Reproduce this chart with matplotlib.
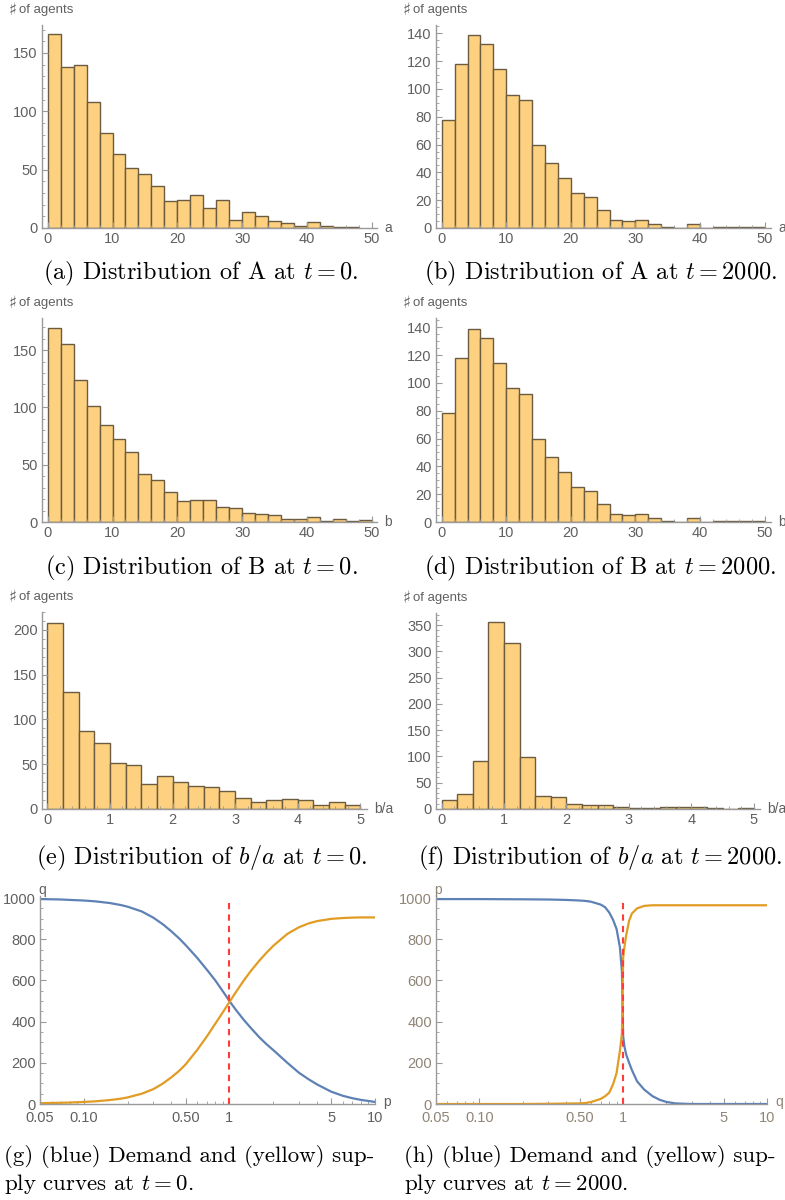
import numpy as np
import matplotlib
matplotlib.use("Agg")
import matplotlib.pyplot as plt
from matplotlib.ticker import MultipleLocator, FixedLocator, FixedFormatter, NullFormatter

plt.rcParams['mathtext.fontset'] = 'cm'
plt.rcParams['font.family'] = ['Liberation Sans', 'DejaVu Sans']

# histogram counts (bin width 2 for a and b, 0.25 for b/a)
a_t0 = [166, 138, 140, 108, 81, 63, 51, 46, 36, 23, 24, 28, 17, 24, 7, 14,
        10, 6, 4, 2, 5, 2, 1, 1]
a_t2000 = [78, 118, 139, 132, 114, 96, 92, 60, 47, 36, 25, 22, 13, 6, 5, 6,
           3, 1, 0, 3, 0, 1, 1, 1, 1]
b_t0 = [169, 155, 124, 101, 85, 72, 61, 42, 37, 26, 18, 19, 19, 13, 12, 8,
        7, 6, 3, 3, 4, 1, 3, 1, 2]
b_t2000 = [78, 118, 139, 132, 114, 96, 92, 60, 47, 36, 25, 22, 13, 6, 5, 6,
           3, 1, 0, 3, 0, 1, 1, 1, 1]
ratio_t0 = [208, 131, 87, 74, 51, 49, 28, 37, 30, 26, 25, 20, 12, 8, 10, 11,
            10, 5, 8, 5]
ratio_t2000 = [17, 29, 92, 355, 316, 99, 25, 22, 9, 7, 7, 3, 2, 2, 3, 3,
               3, 2, 0, 2]

# demand / supply curves at t = 0
p_t0 = [0.05, 0.06, 0.07, 0.08, 0.1, 0.12, 0.15, 0.18, 0.2, 0.25, 0.3, 0.35,
        0.4, 0.45, 0.5, 0.6, 0.7, 0.8, 0.9, 1.0, 1.1, 1.25, 1.4, 1.6, 1.8,
        2.0, 2.5, 3.0, 3.5, 4.0, 5.0, 6.0, 7.0, 8.0, 10.0]
demand_t0 = [995, 994, 993, 991, 988, 984, 976, 966, 958, 935, 905, 872,
             838, 805, 772, 710, 652, 600, 548, 500, 460, 410, 370, 325, 290,
             262, 200, 152, 120, 95, 60, 40, 28, 20, 10]
supply_t0 = [4, 5, 6, 7, 10, 13, 19, 26, 32, 50, 72, 100,
             130, 160, 192, 262, 328, 390, 445, 495, 540, 598, 645, 695, 735,
             768, 826, 858, 877, 888, 899, 903, 905, 906, 906]

# demand / supply curves at t = 2000
p_t2000 = [0.05, 0.1, 0.2, 0.3, 0.4, 0.5, 0.55, 0.6, 0.7, 0.75, 0.8, 0.85,
           0.9, 0.95, 0.98, 1.0, 1.02, 1.05, 1.1, 1.15, 1.25, 1.4, 1.6, 1.8,
           2.0, 2.3, 3.0, 5.0, 10.0]
demand_t2000 = [995, 995, 994, 993, 991, 988, 986, 982, 968, 955, 930, 895,
                850, 760, 645, 330, 280, 240, 200, 165, 110, 70, 38, 20,
                10, 3, 0, 0, 0]
supply_t2000 = [0, 0, 0, 1, 2, 3, 5, 10, 25, 38, 55, 95,
                150, 260, 340, 710, 760, 820, 890, 925, 950, 962, 965, 965,
                965, 965, 965, 965, 965]

W, H = 785, 1200
FACE = '#FDD17F'
EDGE = '#6b5b40'
AXIS = '#9a9a9a'
TICKTXT = '#606060'
BLUE = '#5E81B5'
ORANGE = '#E19C24'

fig = plt.figure(figsize=(W / 100, H / 100), dpi=100)


def add_axes(l, r, t, b):
    return fig.add_axes([l / W, 1 - b / H, (r - l) / W, (b - t) / H])


def style(ax, label_col=TICKTXT):
    for s in ['top', 'right']:
        ax.spines[s].set_visible(False)
    for s in ['left', 'bottom']:
        ax.spines[s].set_color(AXIS)
        ax.spines[s].set_linewidth(1.0)
    ax.tick_params(which='major', direction='in', length=4, width=0.8,
                   color=AXIS, labelcolor=label_col, labelsize=10.5, pad=3)
    ax.tick_params(which='minor', direction='in', length=2, width=0.6,
                   color=AXIS)
    ax.patch.set_alpha(0)


def histogram(rect, counts, width, xlim, ylim, xmaj, xmin, ymaj, ymin,
              xlabel):
    ax = add_axes(*rect)
    edges = np.arange(len(counts)) * width
    ax.bar(edges, counts, width=width, align='edge', facecolor=FACE,
           edgecolor=EDGE, linewidth=1.0)
    ax.set_xlim(*xlim)
    ax.set_ylim(*ylim)
    ax.xaxis.set_major_locator(MultipleLocator(xmaj))
    ax.xaxis.set_minor_locator(MultipleLocator(xmin))
    ax.yaxis.set_major_locator(MultipleLocator(ymaj))
    ax.yaxis.set_minor_locator(MultipleLocator(ymin))
    style(ax)
    # sharp sign drawn a bit larger than the rest of the label
    ax.annotate('\u266f', xy=(0, 1), xycoords='axes fraction',
                xytext=(-33, 15), textcoords='offset pixels', fontsize=12,
                color=TICKTXT, ha='left', va='center',
                family=['DejaVu Sans'])
    ax.annotate('of agents', xy=(0, 1), xycoords='axes fraction',
                xytext=(-23, 15), textcoords='offset pixels', fontsize=9.5,
                color=TICKTXT, ha='left', va='center')
    ax.annotate(xlabel, xy=(1, 0), xycoords='axes fraction',
                xytext=(7, 0), textcoords='offset pixels', fontsize=10,
                color=TICKTXT, ha='left', va='center')
    return ax


def curves(rect, p, demand, supply, ylabel, xlabel, label_col):
    ax = add_axes(*rect)
    ax.set_xscale('log')
    ax.plot(p, demand, color=BLUE, lw=1.6)
    ax.plot(p, supply, color=ORANGE, lw=1.6)
    ax.plot([1, 1], [0, 1000], color='#ff3b3b', lw=1.5, ls=(0, (3, 2.5)))
    ax.set_xlim(0.05, 10)
    ax.set_ylim(0, 1010)
    ax.xaxis.set_major_locator(FixedLocator([0.05, 0.1, 0.5, 1, 5, 10]))
    ax.xaxis.set_major_formatter(
        FixedFormatter(['0.05', '0.10', '0.50', '1', '5', '10']))
    ax.xaxis.set_minor_locator(FixedLocator(
        [0.06, 0.07, 0.08, 0.09, 0.2, 0.3, 0.4, 0.6, 0.7, 0.8, 0.9,
         2, 3, 4, 6, 7, 8, 9]))
    ax.xaxis.set_minor_formatter(NullFormatter())
    ax.yaxis.set_major_locator(MultipleLocator(200))
    ax.yaxis.set_minor_locator(MultipleLocator(50))
    style(ax, label_col)
    ax.tick_params(axis='x', which='major', pad=5)
    ax.annotate(ylabel, xy=(0, 1), xycoords='axes fraction',
                xytext=(2, 6), textcoords='offset pixels', fontsize=10,
                color=label_col, ha='center', va='center')
    ax.annotate(xlabel, xy=(1, 0), xycoords='axes fraction',
                xytext=(8, 2), textcoords='offset pixels', fontsize=10,
                color=label_col, ha='left', va='center')
    return ax


# row 1: a
histogram((42, 377, 25, 228), a_t0, 2, (-0.88, 50.8), (0, 174),
          10, 2, 50, 10, 'a')
histogram((436, 771, 25, 228), a_t2000, 2, (-0.88, 51.0), (0, 146),
          10, 2, 20, 5, 'a')
# row 2: b
histogram((42, 377, 318, 522), b_t0, 2, (-0.88, 50.8), (0, 178),
          10, 2, 50, 10, 'b')
histogram((436, 771, 318, 522), b_t2000, 2, (-0.88, 51.0), (0, 146.6),
          10, 2, 20, 5, 'b')
# row 3: b/a
histogram((42, 367, 612, 809), ratio_t0, 0.25, (-0.086, 5.107), (0, 220),
          1, 0.2, 50, 10, 'b/a')
histogram((436, 760, 613, 809), ratio_t2000, 0.25, (-0.09, 5.10), (0, 373),
          1, 0.2, 50, 10, 'b/a')
# row 4: demand and supply
curves((40, 375, 896, 1104), p_t0, demand_t0, supply_t0, 'q', 'p', TICKTXT)
curves((436, 767, 896, 1104), p_t2000, demand_t2000, supply_t2000, 'p', 'q',
       '#8f8577')

# captions
cap = dict(family='cmr10', fontsize=17.5, va='center')
fig.text(201 / W, 1 - 273 / H, r'(a) Distribution of A at $t = 0$.',
         ha='center', **cap)
fig.text(600 / W, 1 - 273 / H, r'(b) Distribution of A at $t = 2000$.',
         ha='center', **cap)
fig.text(201 / W, 1 - 568 / H, r'(c) Distribution of B at $t = 0$.',
         ha='center', **cap)
fig.text(600 / W, 1 - 568 / H, r'(d) Distribution of B at $t = 2000$.',
         ha='center', **cap)
fig.text(201 / W, 1 - 858 / H, r'(e) Distribution of $b/a$ at $t = 0$.',
         ha='center', **cap)
fig.text(600 / W, 1 - 858 / H, r'(f) Distribution of $b/a$ at $t = 2000$.',
         ha='center', **cap)
cap2 = dict(family='cmr10', fontsize=16.5, va='center', ha='left')
fig.text(4 / W, 1 - 1156 / H, '(g) (blue) Demand and (yellow) sup-', **cap2)
fig.text(4 / W, 1 - 1184 / H, r'ply curves at $t = 0$.', **cap2)
fig.text(404 / W, 1 - 1156 / H, '(h) (blue) Demand and (yellow) sup-',
         **cap2)
fig.text(404 / W, 1 - 1184 / H, r'ply curves at $t = 2000$.', **cap2)

fig.savefig('out.png', dpi=100)
